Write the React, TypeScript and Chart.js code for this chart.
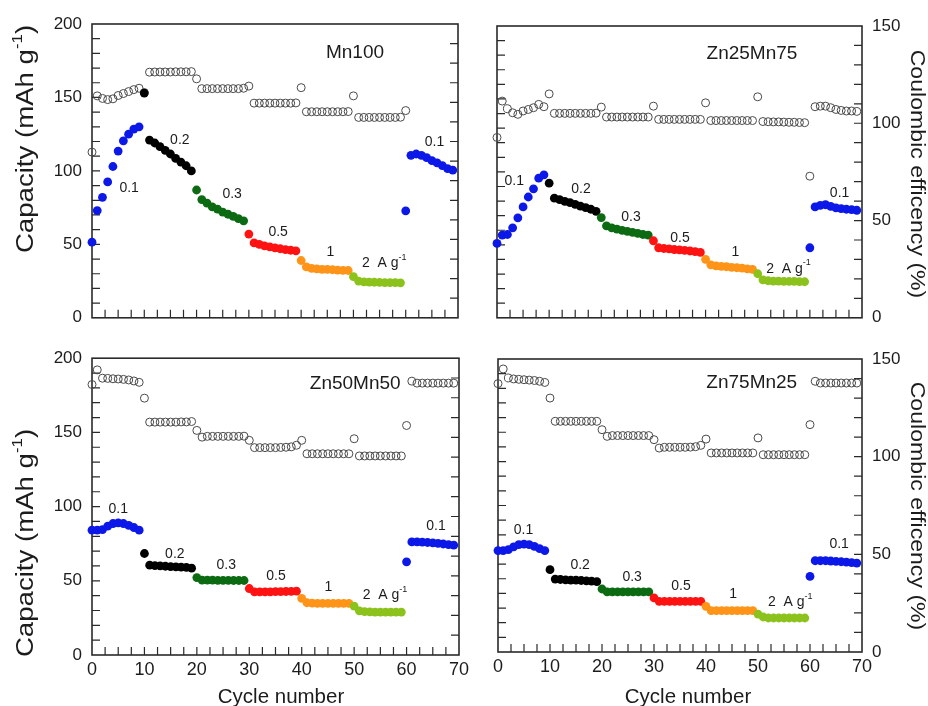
import React, { useEffect, useRef } from 'react';
import { Chart, registerables } from 'chart.js';

Chart.register(...registerables);

const FONT = '"Liberation Sans", Arial, Helvetica, sans-serif';

// ---------- data ----------
const cycles: number[] = Array.from({ length: 70 }, (_, i) => i);
const rateLabels = ['0.1', '0.2', '0.3', '0.5', '1', '2', '0.1'];
const rateColors = ['#0b18e8', '#000000', '#0b6a12', '#ff1212', '#ff9418', '#8cc21c', '#0b18e8'];

const capTicks = { min: 0, max: 200, major: 50, minor: 10 };
const ceTicks = { min: 0, max: 150, major: 50, minor: 10 };
const cycleTicks = { min: 0, max: 70, major: 10, minor: 2.5 };

const mn100Capacity = [
  51.5, 73, 82, 92.5, 103, 113.5, 120.5, 125, 128.5, 130,
  153, 121, 119, 116.5, 114, 111.5, 108.5, 106, 103.5, 100,
  87, 80.5, 78, 75.5, 74, 72, 70.5, 69, 67.5, 66,
  57, 51, 50, 49, 48.3, 47.6, 47, 46.4, 46, 45.6,
  39, 34.6, 33.6, 33.3, 33, 32.9, 32.7, 32.5, 32.3, 32.2,
  28, 25, 24.5, 24.3, 24.2, 24.1, 24, 24, 23.9, 23.8,
  72.8, 110.6, 111.5, 110.6, 109, 107, 105.4, 103.6, 101.6, 100.5,
];
const mn100CE = [
  84.6, 113.3, 112, 111.4, 111.8, 113.5, 114.5, 115.5, 116.5, 117.2,
  115, 125.4, 125.5, 125.5, 125.5, 125.5, 125.6, 125.6, 125.6, 125.7,
  122, 117, 117, 117, 117, 117, 117, 117, 117, 117.2,
  118.3, 109.6, 109.6, 109.6, 109.6, 109.6, 109.6, 109.6, 109.6, 109.7,
  117.5, 105.2, 105.2, 105.2, 105.2, 105.2, 105.2, 105.2, 105.2, 105.3,
  113.3, 102.3, 102.3, 102.3, 102.3, 102.3, 102.3, 102.3, 102.3, 102.4,
  105.8, null, null, null, null, null, null, null, null, null,
];

const zn25Capacity = [
  51, 56.7, 57.1, 61.7, 68.5, 76, 82.8, 88.4, 95.7, 98,
  92.3, 82, 81, 79.8, 79, 77.8, 76.6, 75.5, 74.4, 73,
  68.7, 63, 61.7, 60.8, 59.9, 59.2, 58.5, 57.8, 57.1, 56.7,
  52.8, 48, 47.5, 47.2, 46.8, 46.5, 46.2, 45.8, 45.3, 44.8,
  40.1, 36.3, 35.6, 35.3, 35, 34.6, 34.3, 34, 33.6, 33.2,
  30.2, 26, 25.4, 25.2, 25.1, 25, 25, 24.9, 24.8, 24.7,
  48, 76, 77.1, 77.5, 76.4, 75.3, 74.8, 74.4, 74.1, 73.7,
];
const zn25CE = [
  92.7, 111.4, 107.5, 105.4, 104.6, 106.3, 107.1, 108, 109.7, 108.5,
  115.1, 105.1, 105.1, 105.1, 105.1, 105.1, 105.1, 105.1, 105.1, 105.2,
  108.3, 103.2, 103.2, 103.2, 103.2, 103.2, 103.2, 103.2, 103.2, 103.2,
  108.8, 102, 102, 102, 102, 102, 102, 102, 102, 102,
  110.5, 101.4, 101.4, 101.4, 101.4, 101.4, 101.4, 101.4, 101.4, 101.4,
  113.6, 100.9, 100.8, 100.7, 100.7, 100.6, 100.5, 100.5, 100.4, 100.3,
  72.8, 108.5, 108.8, 108.8, 108, 107.1, 106.6, 106.3, 106.3, 106.1,
];

const zn50Capacity = [
  84.1, 84.1, 84.5, 86.8, 88.6, 89, 88.6, 87.4, 85.9, 84.1,
  68.4, 60.5, 60.2, 60, 59.8, 59.6, 59.4, 59.2, 59, 58.5,
  52.2, 50.4, 50.4, 50.4, 50.3, 50.3, 50.3, 50.2, 50.2, 50.2,
  44.8, 42.6, 42.6, 42.6, 42.6, 42.7, 42.7, 42.8, 42.9, 43,
  38.1, 35.2, 34.9, 34.8, 34.8, 34.8, 34.8, 34.8, 34.8, 34.8,
  33, 29.8, 29.2, 29, 28.9, 28.9, 28.9, 28.9, 28.9, 28.9,
  62.8, 76.2, 76.2, 76, 75.8, 75.5, 75.2, 74.8, 74.4, 74,
];
const zn50CE = [
  136.7, 144.1, 139.9, 139.8, 139.6, 139.5, 139.3, 139, 138.5, 137.8,
  129.8, 117.7, 117.7, 117.7, 117.7, 117.7, 117.7, 117.8, 117.8, 118,
  113.5, 110.1, 110.5, 110.5, 110.5, 110.5, 110.5, 110.5, 110.5, 110.6,
  108.5, 104.8, 104.8, 104.8, 104.8, 104.8, 104.9, 105, 105.2, 106,
  108.5, 101.7, 101.7, 101.7, 101.7, 101.7, 101.7, 101.7, 101.7, 101.7,
  109.3, 100.6, 100.6, 100.6, 100.6, 100.6, 100.6, 100.6, 100.6, 100.6,
  116, 138.4, 137.4, 137.4, 137.4, 137.4, 137.4, 137.4, 137.4, 137.4,
];

const zn75Capacity = [
  69.2, 69.2, 69.9, 71.7, 73.3, 73.7, 73.3, 72.1, 70.5, 69.2,
  56.2, 49.8, 49.5, 49.3, 49.1, 49, 48.8, 48.6, 48.4, 48,
  43, 41, 41, 41, 41, 41, 41, 41, 41, 41,
  36.9, 34.6, 34.6, 34.6, 34.6, 34.6, 34.6, 34.6, 34.6, 34.6,
  31.2, 28.2, 28.2, 28.2, 28.2, 28.2, 28.2, 28.2, 28.2, 28.2,
  25.9, 23.9, 23.2, 23.2, 23.2, 23.2, 23.2, 23.2, 23.2, 23.2,
  51.6, 62.3, 62.3, 62.3, 62.1, 61.9, 61.6, 61.3, 61, 60.7,
];
const zn75CE = [
  137.4, 144.9, 140.3, 139.8, 139.6, 139.4, 139.2, 139, 138.6, 138,
  130, 118.1, 118.1, 118.1, 118.1, 118.1, 118.1, 118.1, 118.1, 118.1,
  113.8, 110.4, 110.8, 110.8, 110.8, 110.8, 110.8, 110.8, 110.8, 110.8,
  108.7, 104.4, 104.8, 104.8, 104.8, 104.8, 104.8, 104.9, 105.1, 105.8,
  109, 101.9, 101.9, 101.9, 101.9, 101.9, 101.9, 101.9, 101.9, 101.9,
  109.6, 101, 101, 101, 101, 101, 101, 101, 101, 101,
  116.4, 138.6, 137.7, 137.7, 137.7, 137.7, 137.7, 137.7, 137.7, 137.7,
];

// rate annotation anchors (data units: cycle, capacity), one per rate step
const mn100RateAt = [[7.1, 88.5], [16.8, 121], [26.8, 84], [35.6, 58], [45.6, 45], [55.9, 37], [65.5, 119.5]];
const zn25RateAt = [[3.3, 93.4], [16.1, 88], [25.7, 68.7], [35.1, 54.9], [45.7, 45], [55.9, 33.6], [65.7, 85.7]];
const zn50RateAt = [[5, 98.2], [15.8, 68], [25.6, 60.3], [35.1, 53.1], [45.1, 45.5], [55.9, 40], [65.6, 86.8]];
const zn75RateAt = [[4.9, 83.5], [15.8, 59.6], [25.8, 51.2], [35.2, 44.8], [45.2, 39.6], [56.2, 34.1], [65.6, 73.3]];

const capTitle = 'Capacity (mAh g';
const ceTitle = 'Coulombic efficency (%)';
const cycleTitle = 'Cycle number';

type Box = { x: number; y: number; w: number; h: number };
type Area = { l: number; t: number; r: number; b: number };
type PanelSpec = {
  key: string;
  name: string;
  nameAt: number[];
  cap: number[];
  ce: (number | null)[];
  rateAt: number[][];
  box: Box;
  area: Area;
  left: boolean;
  right: boolean;
  bottom: boolean;
  capTitleY: number;
  ceTitleY: number;
  cycleTitleX: number;
};

const panels: PanelSpec[] = [
  {
    key: 'mn100', name: 'Mn100', nameAt: [50.3, 180.5], cap: mn100Capacity, ce: mn100CE, rateAt: mn100RateAt,
    box: { x: 0, y: 0, w: 478, h: 338 }, area: { l: 92, t: 24, r: 458, b: 321 },
    left: true, right: false, bottom: false, capTitleY: 139, ceTitleY: 0, cycleTitleX: 0,
  },
  {
    key: 'zn25', name: 'Zn25Mn75', nameAt: [48.9, 181], cap: zn25Capacity, ce: zn25CE, rateAt: zn25RateAt,
    box: { x: 478, y: 0, w: 450, h: 338 }, area: { l: 497, t: 26, r: 862, b: 320 },
    left: false, right: true, bottom: false, capTitleY: 0, ceTitleY: 174, cycleTitleX: 0,
  },
  {
    key: 'zn50', name: 'Zn50Mn50', nameAt: [50.2, 182.7], cap: zn50Capacity, ce: zn50CE, rateAt: zn50RateAt,
    box: { x: 0, y: 338, w: 478, h: 368 }, area: { l: 92, t: 358, r: 459, b: 655 },
    left: true, right: false, bottom: true, capTitleY: 543, ceTitleY: 0, cycleTitleX: 281,
  },
  {
    key: 'zn75', name: 'Zn75Mn25', nameAt: [48.8, 183.7], cap: zn75Capacity, ce: zn75CE, rateAt: zn75RateAt,
    box: { x: 478, y: 338, w: 450, h: 368 }, area: { l: 498, t: 359, r: 862, b: 652 },
    left: false, right: true, bottom: true, capTitleY: 0, ceTitleY: 506, cycleTitleX: 688,
  },
];

// ---------- drawing helpers ----------
type Part = { t: string; size: number; dy?: number };

function partsWidth(ctx: CanvasRenderingContext2D, parts: Part[]) {
  let w = 0;
  for (const p of parts) {
    ctx.font = `${p.size}px ${FONT}`;
    w += ctx.measureText(p.t).width;
  }
  return w;
}

// draws parts centred on (0,0) in the current transform
function drawParts(ctx: CanvasRenderingContext2D, parts: Part[]) {
  const total = partsWidth(ctx, parts);
  let x = -total / 2;
  ctx.textAlign = 'left';
  ctx.textBaseline = 'middle';
  for (const p of parts) {
    ctx.font = `${p.size}px ${FONT}`;
    ctx.fillText(p.t, x, p.dy || 0);
    x += ctx.measureText(p.t).width;
  }
}

function makeChart(canvas: HTMLCanvasElement, p: PanelSpec) {
  const yW = p.left ? 40 : 10;
  const y2W = p.right ? 40 : 10;
  const xH = p.bottom ? 30 : 8;
  const padding = {
    left: p.area.l - p.box.x - yW,
    right: p.box.x + p.box.w - p.area.r - y2W,
    top: p.area.t - p.box.y,
    bottom: p.box.y + p.box.h - p.area.b - xH,
  };
  const TICK = 8;
  const textColor = '#1c1c1c';

  const capData = cycles.map((c, i) => ({ x: c, y: p.cap[i] }));
  const ceData = cycles
    .map((c, i) => ({ x: c, y: p.ce[i] }))
    .filter((d) => d.y !== null && d.y !== undefined);

  const deco = {
    id: 'deco',
    beforeDatasetsDraw(chart: any) {
      const { ctx, chartArea: a, scales } = chart;
      ctx.save();
      ctx.strokeStyle = '#2a2a2a';
      ctx.lineWidth = 1.2;
      ctx.beginPath();
      for (let v = capTicks.min + capTicks.minor; v < capTicks.max; v += capTicks.minor) {
        const y = scales.y.getPixelForValue(v);
        ctx.moveTo(a.left, y);
        ctx.lineTo(a.left + TICK, y);
      }
      for (let v = ceTicks.min + ceTicks.minor; v < ceTicks.max; v += ceTicks.minor) {
        const y = scales.y2.getPixelForValue(v);
        ctx.moveTo(a.right, y);
        ctx.lineTo(a.right - TICK, y);
      }
      for (let v = cycleTicks.min + cycleTicks.minor; v < cycleTicks.max; v += cycleTicks.minor) {
        const x = scales.x.getPixelForValue(v);
        ctx.moveTo(x, a.bottom);
        ctx.lineTo(x, a.bottom - TICK);
      }
      ctx.stroke();
      ctx.lineWidth = 1.6;
      ctx.strokeRect(a.left, a.top, a.right - a.left, a.bottom - a.top);
      ctx.restore();
    },
    afterDraw(chart: any) {
      const { ctx, scales } = chart;
      const ox = p.box.x;
      const oy = p.box.y;
      ctx.save();
      ctx.fillStyle = textColor;
      // rate annotations
      p.rateAt.forEach((pos, i) => {
        const x = scales.x.getPixelForValue(pos[0]);
        const y = scales.y.getPixelForValue(pos[1]);
        ctx.save();
        ctx.translate(x, y);
        if (rateLabels[i] === '2') {
          drawParts(ctx, [
            { t: '2  A g', size: 14 },
            { t: '-1', size: 9, dy: -6 },
          ]);
        } else {
          drawParts(ctx, [{ t: rateLabels[i], size: 14 }]);
        }
        ctx.restore();
      });
      // panel name
      ctx.save();
      ctx.translate(scales.x.getPixelForValue(p.nameAt[0]), scales.y.getPixelForValue(p.nameAt[1]));
      drawParts(ctx, [{ t: p.name, size: 19 }]);
      ctx.restore();
      // left title
      if (p.left) {
        ctx.save();
        ctx.translate(27 - ox, p.capTitleY - oy);
        ctx.rotate(-Math.PI / 2);
        ctx.scale(1.2, 1);
        drawParts(ctx, [
          { t: capTitle, size: 23 },
          { t: '-1', size: 14, dy: -9 },
          { t: ')', size: 23 },
        ]);
        ctx.restore();
      }
      if (p.right) {
        ctx.save();
        ctx.translate(917 - ox, p.ceTitleY - oy);
        ctx.rotate(Math.PI / 2);
        ctx.scale(1.1, 1);
        drawParts(ctx, [{ t: ceTitle, size: 21 }]);
        ctx.restore();
      }
      if (p.bottom) {
        ctx.save();
        ctx.translate(p.cycleTitleX - ox, 697 - oy);
        drawParts(ctx, [{ t: cycleTitle, size: 20.5 }]);
        ctx.restore();
      }
      ctx.restore();
    },
  };

  return new Chart(canvas, {
    type: 'scatter',
    data: {
      datasets: [
        {
          label: 'Capacity',
          data: capData,
          yAxisID: 'y',
          showLine: false,
          clip: false as any,
          pointRadius: 4.4,
          pointBorderWidth: 0,
          pointBackgroundColor: (ctx: any) => rateColors[Math.floor(ctx.dataIndex / 10)],
          pointBorderColor: (ctx: any) => rateColors[Math.floor(ctx.dataIndex / 10)],
        },
        {
          label: 'Coulombic efficiency',
          data: ceData,
          yAxisID: 'y2',
          showLine: false,
          clip: false as any,
          pointRadius: 4,
          pointBorderWidth: 1,
          pointBackgroundColor: 'rgba(255,255,255,0)',
          pointBorderColor: '#4a4a4a',
        },
      ],
    },
    options: {
      animation: false,
      responsive: false,
      devicePixelRatio: 1,
      layout: { padding, autoPadding: false } as any,
      plugins: { legend: { display: false }, tooltip: { enabled: false }, title: { display: false } },
      events: [],
      scales: {
        x: {
          type: 'linear',
          position: 'bottom',
          min: cycleTicks.min,
          max: cycleTicks.max,
          grid: { display: false, drawTicks: false, tickLength: 0 },
          border: { display: false },
          ticks: {
            display: p.bottom,
            stepSize: cycleTicks.major,
            autoSkip: false,
            maxRotation: 0,
            padding: 4,
            color: textColor,
            font: { family: FONT, size: 18 },
          },
          afterFit: (s: any) => { s.height = xH; },
        },
        y: {
          type: 'linear',
          position: 'left',
          min: capTicks.min,
          max: capTicks.max,
          grid: { display: false, drawTicks: false, tickLength: 0 },
          border: { display: false },
          ticks: {
            display: p.left,
            stepSize: capTicks.major,
            padding: 10,
            color: textColor,
            font: { family: FONT, size: 17 },
          },
          afterFit: (s: any) => { s.width = yW; },
        },
        y2: {
          type: 'linear',
          position: 'right',
          min: ceTicks.min,
          max: ceTicks.max,
          grid: { display: false, drawTicks: false, tickLength: 0 },
          border: { display: false },
          ticks: {
            display: p.right,
            stepSize: ceTicks.major,
            padding: 10,
            color: textColor,
            font: { family: FONT, size: 17 },
          },
          afterFit: (s: any) => { s.width = y2W; },
        },
      },
    } as any,
    plugins: [deco],
  });
}

function Panel({ p }: { p: PanelSpec }) {
  const ref = useRef<HTMLCanvasElement | null>(null);
  useEffect(() => {
    if (!ref.current) return;
    const chart = makeChart(ref.current, p);
    return () => chart.destroy();
  }, [p]);
  return (
    <canvas
      ref={ref}
      width={p.box.w}
      height={p.box.h}
      style={{ position: 'absolute', left: p.box.x, top: p.box.y, width: p.box.w, height: p.box.h, display: 'block' }}
    />
  );
}

export default function App() {
  return (
    <div style={{ position: 'absolute', left: 0, top: 0, width: 928, height: 706, background: '#ffffff', overflow: 'hidden' }}>
      {panels.map((p) => (
        <Panel key={p.key} p={p} />
      ))}
    </div>
  );
}
